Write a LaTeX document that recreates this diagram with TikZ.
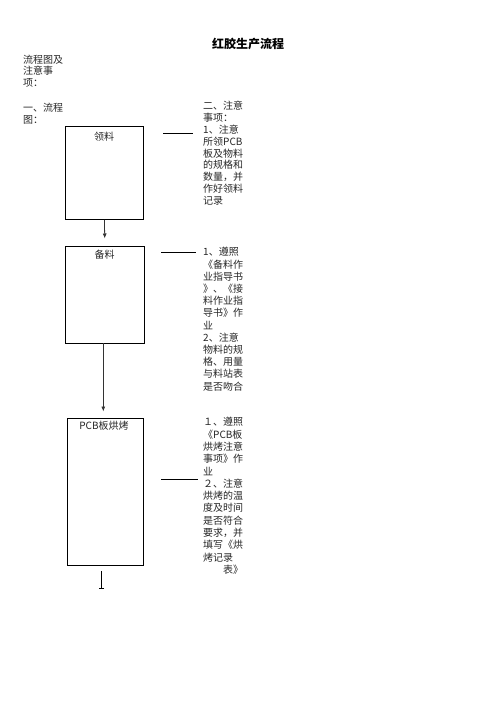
\documentclass[tikz,border=0pt]{standalone}
\usepackage{fontspec}
\setmainfont{Noto Sans CJK SC}
\usetikzlibrary{arrows.meta}
\tikzset{
  stepbox/.style={draw=black, line width=0.8pt, inner sep=0pt, anchor=north west},
  lbl/.style={inner sep=0pt, text=black!85, font=\fontsize{10}{12}\selectfont},
  note/.style={inner sep=0pt, anchor=base west, text=black!85},
  flow/.style={line width=0.8pt, draw=black!80, -{Latex[length=5pt,width=4pt]}},
  tie/.style={line width=0.8pt, draw=black}
}
\begin{document}
\begin{tikzpicture}[x=1pt,y=-1pt]
\useasboundingbox (0,0) rectangle (496,702);
% title
\node[inner sep=0pt, anchor=base, font=\bfseries\fontsize{12}{14}\selectfont] (title) at (248,48.6) {红胶生产流程};
% left texts
\node[note, font=\fontsize{10}{11.5}\selectfont] (intro) at (23,63.1)
  {\vtop{\hbox{流程图及}\hbox{注意事}\hbox{项：}}};
\node[note, font=\fontsize{10}{12}\selectfont] (part1) at (23,111.1)
  {\vtop{\hbox{一、流程}\hbox{图：}}};
% boxes
\node[stepbox, minimum width=78pt, minimum height=93pt] (b1) at (65,126) {};
\node[stepbox, minimum width=79pt, minimum height=97pt] (b2) at (65,245.5) {};
\node[stepbox, minimum width=76pt, minimum height=147pt] (b3) at (67,418) {};
\node[lbl] (t1) at (104,136.5) {领料};
\node[lbl] (t2) at (104.5,255) {备料};
\node[lbl] (t3) at (104,426) {PCB板烘烤};
% arrows
\draw[flow, shorten >=7pt] (b1.south) -- (b2.north);
\draw[flow, shorten >=6.5pt] (b2.south -| 103.3,0) -- (b3.north -| 103.3,0);
\coordinate (endp) at (101.7,588.5);
\draw[tie, shorten <=5pt, -{Bar[width=5pt,line width=0.8pt]}] (b3.south -| endp) -- (endp);
% notes
\node[note, font=\fontsize{10}{11.8}\selectfont] (n1) at (203,109.8)
  {\vtop{\hbox{二、注意}\hbox{事项：}\hbox{1、注意}\hbox{所领PCB}\hbox{板及物料}\hbox{的规格和}\hbox{数量，并}\hbox{作好领料}\hbox{记录}}};
\node[note, font=\fontsize{10}{12.2}\selectfont] (n2) at (203,255.8)
  {\vtop{\hbox{1、遵照}\hbox{《备料作}\hbox{业指导书}\hbox{》、《接}\hbox{料作业指}\hbox{导书》作}\hbox{业}\hbox{2、注意}\hbox{物料的规}\hbox{格、用量}\hbox{与料站表}\hbox{是否吻合}}};
\node[note, font=\fontsize{10}{12.3}\selectfont] (n3) at (203,425.8)
  {\vtop{\hbox{１、遵照}\hbox{《PCB板}\hbox{烘烤注意}\hbox{事项》作}\hbox{业}\hbox{２、注意}\hbox{烘烤的温}\hbox{度及时间}\hbox{是否符合}\hbox{要求，并}\hbox{填写《烘}\hbox{烤记录}\hbox{\hspace*{2em}表》}}};
% side lines
\coordinate (l1a) at (163.3,133);
\coordinate (l1b) at (193.3,133);
\coordinate (l2a) at (161,252);
\coordinate (l2b) at (196,252);
\coordinate (l3a) at (161,479.5);
\coordinate (l3b) at (198,479.5);
\draw[tie] (l1a) -- (l1b);
\draw[tie] (l2a) -- (l2b);
\draw[tie] (l3a) -- (l3b);
\end{tikzpicture}
\end{document}
